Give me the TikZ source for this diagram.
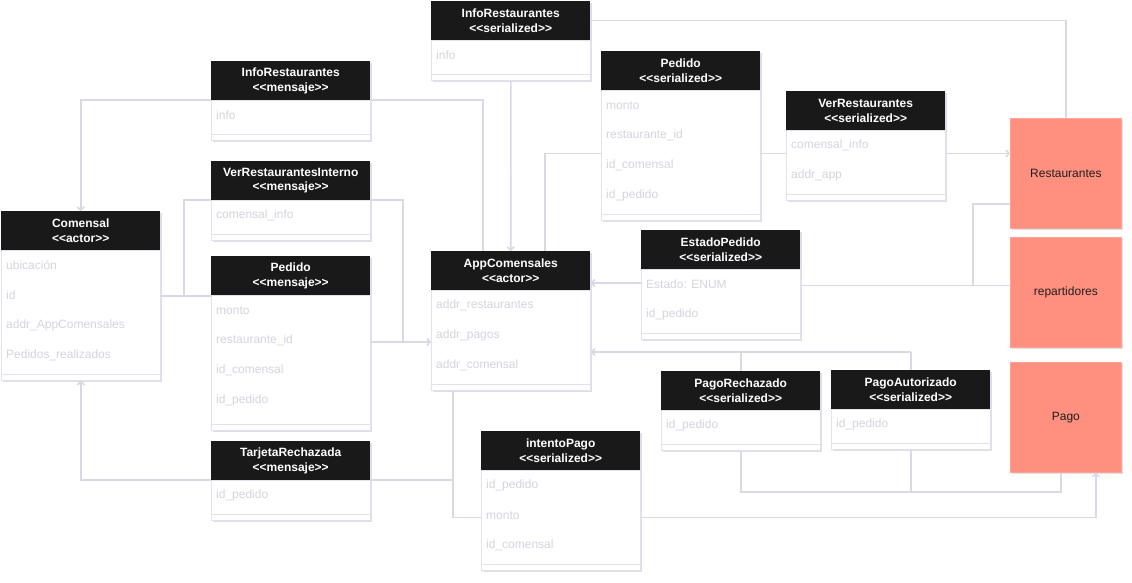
\documentclass[tikz,border=0pt]{standalone}
\usepackage{fontspec}
\setmainfont{Liberation Sans}
\usetikzlibrary{arrows.meta,calc,shadows}
\definecolor{hdrc}{HTML}{191919}
\definecolor{connc}{HTML}{D8D8E6}
\definecolor{fieldc}{HTML}{D4D4DE}
\definecolor{shadc}{HTML}{C4C4D6}
\definecolor{salmon}{HTML}{FF9080}
\definecolor{salmonb}{HTML}{FFA394}
\definecolor{bodyln}{HTML}{E2E2EC}
\newcommand{\stereo}[1]{<\kern0pt<#1>\kern0pt>}
\tikzset{
  boxshadow/.style={drop shadow={shadow xshift=1.5pt, shadow yshift=-1.5pt, fill=shadc, opacity=0.55}},
  hdr/.style={anchor=north west, minimum width=159pt, minimum height=39pt, inner sep=0pt,
    fill=hdrc, text=white, font=\bfseries\fontsize{12}{14.5}\selectfont, align=center, boxshadow},
  bodybox/.style={anchor=north west, minimum width=159pt, inner sep=0pt, fill=white,
    draw=bodyln, line width=0.8pt, boxshadow},
  field/.style={anchor=west, inner sep=0pt, text=fieldc, font=\fontsize{12}{14}\selectfont},
  sepline/.style={draw=bodyln, line width=1pt},
  conn/.style={draw=connc, line width=1.6pt},
  arr/.style={-{Straight Barb[length=3pt,width=7pt]}},
  actorbox/.style={anchor=north west, minimum width=111pt, minimum height=110pt, inner sep=0pt,
    fill=salmon, draw=salmonb, line width=0.8pt, font=\fontsize{12}{14}\selectfont,
    text=black!88, boxshadow}
}
\newcommand{\umlclass}[7]{%
  \node[hdr] (#1) at (#2,#3) {#5\\\stereo{#6}};
  \node[bodybox, minimum height=#4] (#1b) at (#2,#3+39) {};
  \draw[sepline] ($(#1b.south west)+(0,-6)$) -- ($(#1b.south east)+(0,-6)$);
  \foreach \f [count=\i from 0] in {#7} {
    \node[field] (#1f\i) at (#2+5,#3+39+15.5+30*\i) {\f};
  }
}
\begin{document}
\begin{tikzpicture}[x=1pt,y=-1pt]
\useasboundingbox (0,0) rectangle (1132,583);
\fill[white] (0,0) rectangle (1132,583);

\umlclass{com}{1}{211}{130}{Comensal}{actor}{ubicación, id, addr\_AppComensales, Pedidos\_realizados}
\umlclass{irm}{211}{61}{40}{InfoRestaurantes}{mensaje}{info}
\umlclass{vri}{211}{161}{40}{VerRestaurantesInterno}{mensaje}{comensal\_info}
\umlclass{pem}{211}{256}{135}{Pedido}{mensaje}{monto, restaurante\_id, id\_comensal, id\_pedido}
\umlclass{tr}{211}{441}{40}{TarjetaRechazada}{mensaje}{id\_pedido}
\umlclass{irs}{431}{1}{40}{InfoRestaurantes}{serialized}{info}
\umlclass{pes}{601}{51}{130}{Pedido}{serialized}{monto, restaurante\_id, id\_comensal, id\_pedido}
\umlclass{vr}{786}{91}{70}{VerRestaurantes}{serialized}{comensal\_info, addr\_app}
\umlclass{app}{431}{251}{100}{AppComensales}{actor}{addr\_restaurantes, addr\_pagos, addr\_comensal}
\umlclass{ep}{641}{230}{70}{EstadoPedido}{serialized}{Estado: ENUM, id\_pedido}
\umlclass{prz}{661}{371}{40}{PagoRechazado}{serialized}{id\_pedido}
\umlclass{pau}{831}{370}{40}{PagoAutorizado}{serialized}{id\_pedido}
\umlclass{ip}{481}{431}{100}{intentoPago}{serialized}{id\_pedido, monto, id\_comensal}

\node[actorbox] (rest) at (1010,118) {Restaurantes};
\node[actorbox] (rep) at (1010,237) {repartidores};
\node[actorbox] (pago) at (1010,362) {Pago};

% connectors
\draw[conn] (irs.east) -| (rest.north);
\draw[conn,arr] (irsb.south) -- (app.north);
\draw[conn] ($(app.north west)+(52,0)$) |- (irmb.north east);
\draw[conn,arr] (irmb.north west) -| (com.north);

\coordinate (j1) at ($(comb.north east)+(23,46)$);
\draw[conn] (comb.north east |- j1) -- (pemb.west |- j1);
\draw[conn] (j1) |- (vrib.north west);
\coordinate (j2) at ($(vrib.north east)+(32,142)$);
\draw[conn] (vrib.north east) -| (j2);
\draw[conn,arr] (pemb.east |- j2) -- (app.west |- j2);

\coordinate (j3) at ($(appb.south west)+(22,0)$);
\draw[conn] (j3) |- (trb.north east);
\draw[conn,arr] (trb.north west) -| (comb.south);
\coordinate (j4) at ($(ipb.west)+(0,-3)$);
\draw[conn] (j3) |- (j4);
\draw[conn,arr] (ipb.east |- j4) -| ($(pago.south east)+(-26,0)$);

\coordinate (j5) at ($(app.north west)+(114,0)$);
\coordinate (k1) at ($(pesb.west)+(0,-2)$);
\draw[conn] (j5) |- (k1);
\draw[conn] (pesb.east |- k1) -- (vrb.west |- k1);
\draw[conn,arr] (vrb.east |- k1) -- (rest.west |- k1);

\coordinate (k2) at ($(rep.west)+(0,-7)$);
\draw[conn] (k2) -- (epb.east |- k2);
\draw[conn] ($(rest.south west)+(0,-25)$) -| ($(k2)+(-37,0)$);
\coordinate (k3) at ($(epb.north west)+(0,14)$);
\draw[conn,arr] (k3) -- (appb.east |- k3);

\coordinate (k4) at ($(pau.north)+(0,-18)$);
\draw[conn,arr] (k4) -- (appb.east |- k4);
\draw[conn] (k4) -- (pau.north);
\draw[conn] (prz.north) -- (prz.north |- k4);
\coordinate (k5) at ($(pago.south west)+(51,19)$);
\draw[conn] (przb.south) |- (k5) -- (k5 |- pago.south);
\draw[conn] (paub.south) -- (paub.south |- k5);
\end{tikzpicture}
\end{document}
